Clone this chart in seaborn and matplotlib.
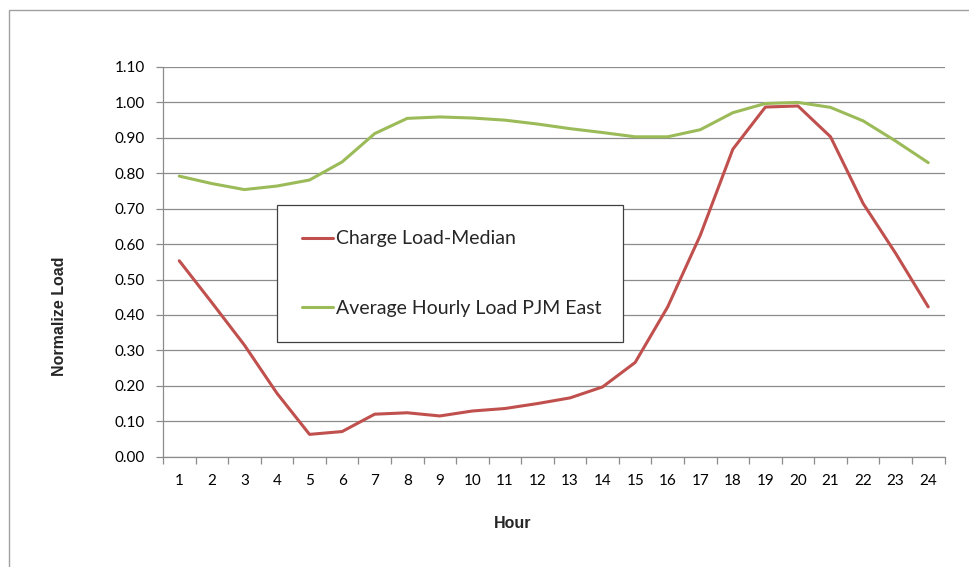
import matplotlib
matplotlib.use("Agg")
import matplotlib.pyplot as plt
from matplotlib.patches import Rectangle
from matplotlib.ticker import FixedLocator, FormatStrFormatter, NullFormatter
import seaborn as sns
import pandas as pd
import numpy as np

hours = list(range(1, 25))
charge_load = [0.553, 0.435, 0.315, 0.179, 0.063, 0.071, 0.120, 0.124, 0.115, 0.129,
               0.136, 0.150, 0.166, 0.197, 0.266, 0.423, 0.625, 0.868, 0.987, 0.990,
               0.903, 0.715, 0.574, 0.423]
pjm_east = [0.792, 0.771, 0.754, 0.764, 0.781, 0.832, 0.912, 0.955, 0.959, 0.956,
            0.950, 0.939, 0.926, 0.915, 0.903, 0.903, 0.923, 0.971, 0.997, 1.000,
            0.986, 0.948, 0.891, 0.830]
series_names = ["Charge Load-Median", "Average Hourly Load PJM East"]
colors = ["#C0504D", "#9BBB59"]
y_ticks = [round(0.1 * i, 2) for i in range(12)]

df = pd.DataFrame({
    "Hour": hours * 2,
    "Load": charge_load + pjm_east,
    "Series": [series_names[0]] * 24 + [series_names[1]] * 24,
})

sns.set_style("white")
plt.rcParams["font.family"] = ["Lato", "DejaVu Sans"]

fig = plt.figure(figsize=(9.69, 5.67), dpi=100)
ax = fig.add_axes([163 / 969, 1 - 456.7 / 567, (944.5 - 163) / 969, (456.7 - 67) / 567])

sns.lineplot(data=df, x="Hour", y="Load", hue="Series", palette=colors,
             linewidth=2.2, ax=ax, legend=True, sort=False)

ax.set_xlim(0.5, 24.5)
ax.set_ylim(0, 1.1)
ax.yaxis.set_major_locator(FixedLocator(y_ticks))
ax.yaxis.set_major_formatter(FormatStrFormatter("%.2f"))
ax.grid(axis="y", color="#8C8C8C", linewidth=0.9)
ax.set_axisbelow(True)

ax.xaxis.set_major_locator(FixedLocator(np.arange(0.5, 25, 1)))
ax.xaxis.set_major_formatter(NullFormatter())
ax.xaxis.set_minor_locator(FixedLocator(hours))
ax.set_xticklabels([str(h) for h in hours], minor=True)
ax.tick_params(axis="x", which="major", length=5, width=0.9, color="#8C8C8C", direction="out", bottom=True)
ax.tick_params(axis="x", which="minor", length=0, pad=12.5, labelsize=11, labelcolor="black")
ax.tick_params(axis="y", which="major", length=5, width=0.9, color="#8C8C8C", direction="out",
               left=True, pad=8, labelsize=11, labelcolor="black")

for side in ["top", "right"]:
    ax.spines[side].set_visible(False)
for side in ["left", "bottom"]:
    ax.spines[side].set_color("#8C8C8C")
    ax.spines[side].set_linewidth(0.9)

ax.set_xlabel("Hour", fontsize=11.5, fontweight="bold", family=["Liberation Sans", "DejaVu Sans"])
ax.set_ylabel("Normalize Load", fontsize=11.5, fontweight="bold", family=["Liberation Sans", "DejaVu Sans"])
ax.xaxis.label.set_va("center")
ax.yaxis.label.set_va("center")
ax.xaxis.set_label_coords((512.5 - 163) / 781.5, -(523.5 - 456.7) / 389.7)
ax.yaxis.set_label_coords((59 - 163) / 781.5, (456.7 - 316.5) / 389.7)

handles, labels = ax.get_legend_handles_labels()
leg = ax.legend(handles, labels, loc="upper left",
                bbox_to_anchor=(276.7 / 969, 1 - 205 / 567, (622.7 - 276.7) / 969, 0.0),
                bbox_transform=fig.transFigure, mode="expand",
                fontsize=14, frameon=True, fancybox=False, handlelength=1.6,
                handletextpad=0.12, labelspacing=2.68, borderpad=1.31, borderaxespad=0)
leg.get_frame().set_edgecolor("#404040")
leg.get_frame().set_linewidth(0.9)
leg.get_frame().set_alpha(1)
for line in leg.get_lines():
    line.set_linewidth(2.2)

fig.patches.append(Rectangle((9 / 969, -0.2), 1.2, 1.2 + (1 - 10 / 567) - 1.0,
                             transform=fig.transFigure, fill=False,
                             edgecolor="#A0A0A0", linewidth=1.0))

fig.savefig("out.png", dpi=100)
